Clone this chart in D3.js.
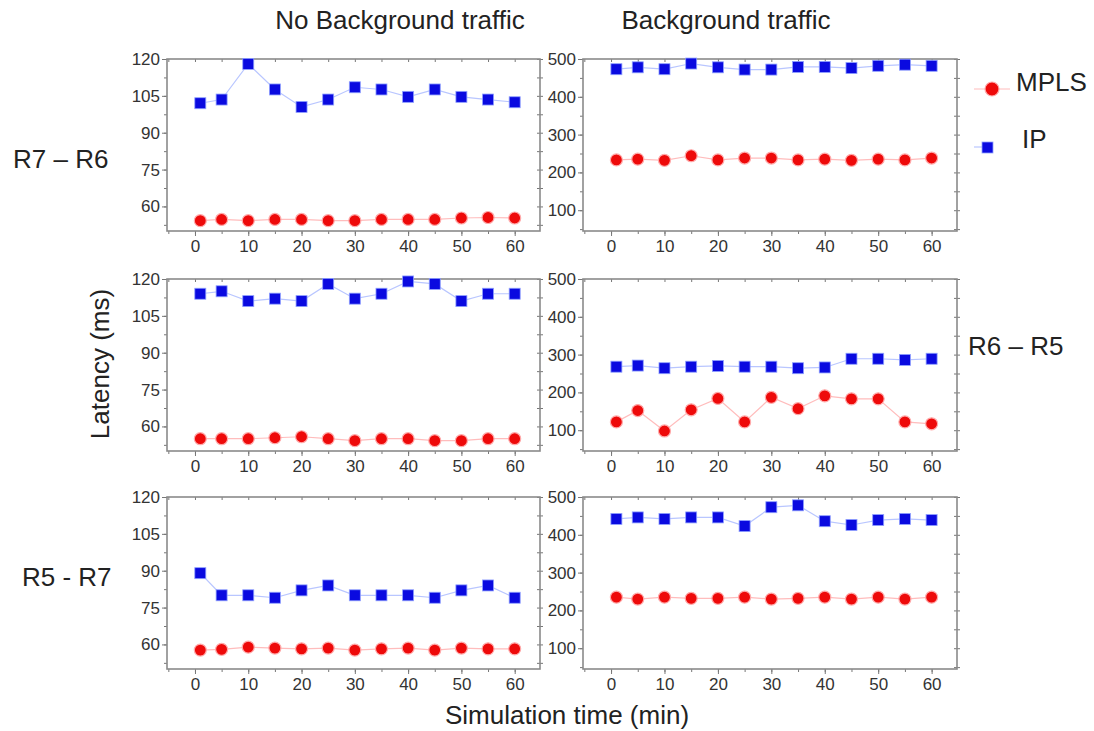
<!DOCTYPE html>
<html>
<head>
<meta charset="utf-8">
<script src="https://cdn.jsdelivr.net/npm/d3@7"></script>
<style>
  body { margin: 0; background: #fff; }
  text { font-family: "Liberation Sans", Arial, sans-serif; }
  .tick text { fill: #333; font-size: 17px; }
  .domain { display: none; }
  .tick line { stroke: #777; }
</style>
</head>
<body>
<svg id="chart" width="1094" height="731"></svg>
<script>
// sample times (min)
var TIME = [1, 5, 10, 15, 20, 25, 30, 35, 40, 45, 50, 55, 60];
var X_TICKS = [0, 10, 20, 30, 40, 50, 60];
var Y_TICKS_NB = [60, 75, 90, 105, 120];
var Y_TICKS_BG = [100, 200, 300, 400, 500];

// R7 - R6
var NB_R7R6_IP   = [102, 103.5, 118, 107.6, 100.5, 103.5, 108.5, 107.6, 104.6, 107.6, 104.6, 103.5, 102.4];
var NB_R7R6_MPLS = [54.2, 54.7, 54.2, 54.7, 54.7, 54.2, 54.2, 54.7, 54.7, 54.7, 55.3, 55.5, 55.3];
var BG_R7R6_IP   = [473, 478, 473, 488, 478, 472, 472, 479, 479, 476, 482, 485, 482];
var BG_R7R6_MPLS = [233, 235, 232, 244, 233, 238, 238, 233, 235, 232, 235, 233, 238];
// R6 - R5
var NB_R6R5_IP   = [114, 115, 111, 112, 111, 118, 112, 114, 119, 118, 111, 114, 114];
var NB_R6R5_MPLS = [55, 55, 55, 55.4, 55.8, 55, 54.2, 55, 55, 54.2, 54.2, 55, 55];
var BG_R6R5_IP   = [268, 271, 264, 268, 270, 268, 268, 264, 266, 289, 289, 286, 289];
var BG_R6R5_MPLS = [122, 152, 98, 154, 184, 122, 187, 157, 191, 183, 183, 122, 117];
// R5 - R7
var NB_R5R7_IP   = [89, 80, 80, 79, 82, 84, 80, 80, 80, 79, 82, 84, 79];
var NB_R5R7_MPLS = [57.7, 58, 58.9, 58.5, 58.2, 58.5, 57.7, 58.2, 58.5, 57.7, 58.5, 58.2, 58.2];
var BG_R5R7_IP   = [442, 446, 442, 446, 446, 423, 473, 478, 436, 426, 439, 442, 439];
var BG_R5R7_MPLS = [235, 230, 235, 232, 232, 235, 230, 232, 235, 230, 235, 230, 235];

var MPLS_COLOR = "#ee0a0a", IP_COLOR = "#0a0ae0";
var MPLS_LINE = "#ffbcbc", IP_LINE = "#b9c6ff";

var svg = d3.select("#chart");

// panel layout: columns (no bg / bg) and rows (routes)
var cols = [{ x: 167, w: 373 }, { x: 583, w: 374 }];
var rows = [59, 279, 497];
var ph = 172;

var panels = [
    { c: 0, r: 0, ip: NB_R7R6_IP, mpls: NB_R7R6_MPLS, bg: false },
    { c: 1, r: 0, ip: BG_R7R6_IP, mpls: BG_R7R6_MPLS, bg: true },
    { c: 0, r: 1, ip: NB_R6R5_IP, mpls: NB_R6R5_MPLS, bg: false },
    { c: 1, r: 1, ip: BG_R6R5_IP, mpls: BG_R6R5_MPLS, bg: true },
    { c: 0, r: 2, ip: NB_R5R7_IP, mpls: NB_R5R7_MPLS, bg: false },
    { c: 1, r: 2, ip: BG_R5R7_IP, mpls: BG_R5R7_MPLS, bg: true }
];

panels.forEach(p => {
    var col = cols[p.c];
    var g = svg.append("g").attr("transform", `translate(${col.x},${rows[p.r]})`);
    var x = d3.scaleLinear().domain([-5.25, 64.75]).range([0, col.w]);
    var y = p.bg ? d3.scaleLinear().domain([45, 500]).range([ph, 0])
                 : d3.scaleLinear().domain([50, 120]).range([ph, 0]);
    var yt = p.bg ? Y_TICKS_BG : Y_TICKS_NB;
    var step = p.bg ? 50 : 7.5;
    var minorY = d3.range(yt[0] - step * 2, 500.1, step).filter(v => v >= y.domain()[0] && v <= y.domain()[1]);
    var minorX = d3.range(-5, 65, 5);

    // minor ticks around the frame
    g.append("g").attr("transform", `translate(0,${ph})`)
        .call(d3.axisBottom(x).tickValues(minorX).tickSize(3).tickFormat(""));
    g.append("g").call(d3.axisTop(x).tickValues(minorX).tickSize(-3).tickFormat(""));
    g.append("g").call(d3.axisLeft(y).tickValues(minorY).tickSize(3).tickFormat(""));
    g.append("g").attr("transform", `translate(${col.w},0)`)
        .call(d3.axisRight(y).tickValues(minorY).tickSize(-3).tickFormat(""));
    g.append("g").attr("transform", `translate(${col.w},0)`)
        .call(d3.axisRight(y).tickValues(minorY).tickSize(3).tickFormat(""));

    // major axes
    g.append("g").attr("transform", `translate(0,${ph})`)
        .call(d3.axisBottom(x).tickValues(X_TICKS).tickSize(5).tickPadding(4));
    g.append("g").call(d3.axisLeft(y).tickValues(yt).tickSize(5).tickPadding(2));

    g.append("rect").attr("width", col.w).attr("height", ph)
        .attr("fill", "none").attr("stroke", "#8a8a8a").attr("stroke-width", 1.6);

    var line = d3.line().x((d, i) => x(TIME[i])).y(d => y(d));
    g.append("path").datum(p.ip).attr("d", line)
        .attr("fill", "none").attr("stroke", IP_LINE).attr("stroke-width", 1.2);
    g.append("path").datum(p.mpls).attr("d", line)
        .attr("fill", "none").attr("stroke", MPLS_LINE).attr("stroke-width", 1.2);

    g.selectAll(".sq").data(p.ip).enter().append("rect")
        .attr("x", (d, i) => x(TIME[i]) - 5.5).attr("y", d => y(d) - 5.5)
        .attr("width", 11).attr("height", 11)
        .attr("fill", IP_COLOR).attr("stroke", "#8fa0ff").attr("stroke-width", 0.8);
    g.selectAll(".ci").data(p.mpls).enter().append("circle")
        .attr("cx", (d, i) => x(TIME[i])).attr("cy", d => y(d)).attr("r", 6)
        .attr("fill", MPLS_COLOR).attr("stroke", "#ffaaaa").attr("stroke-width", 1.2);
});

// headings and labels
function label(txt, xp, yp, anchor) {
    return svg.append("text").attr("x", xp).attr("y", yp)
        .attr("text-anchor", anchor || "start")
        .attr("font-size", 26).attr("fill", "#222").text(txt);
}
label("No Background traffic", 400, 29, "middle");
label("Background traffic", 726, 29, "middle");
label("R7 \u2013 R6", 13, 168);
label("R6 \u2013 R5", 968, 355);
label("R5 - R7", 22, 586);
label("Simulation time (min)", 567, 724, "middle");
label("Latency (ms)", 0, 0, "middle").attr("transform", "translate(109,364) rotate(-90)");

// legend
var lg = svg.append("g");
lg.append("line").attr("x1", 974).attr("x2", 1010).attr("y1", 89).attr("y2", 89)
    .attr("stroke", MPLS_LINE).attr("stroke-width", 1.2);
lg.append("circle").attr("cx", 992).attr("cy", 89).attr("r", 7)
    .attr("fill", MPLS_COLOR).attr("stroke", "#ffaaaa").attr("stroke-width", 1.2);
lg.append("line").attr("x1", 974).attr("x2", 990).attr("y1", 147).attr("y2", 147)
    .attr("stroke", IP_LINE).attr("stroke-width", 1.2);
lg.append("rect").attr("x", 982).attr("y", 142).attr("width", 11).attr("height", 11)
    .attr("fill", IP_COLOR).attr("stroke", "#8fa0ff").attr("stroke-width", 0.8);
label("MPLS", 1016, 91);
label("IP", 1022, 148);
</script>
</body>
</html>
